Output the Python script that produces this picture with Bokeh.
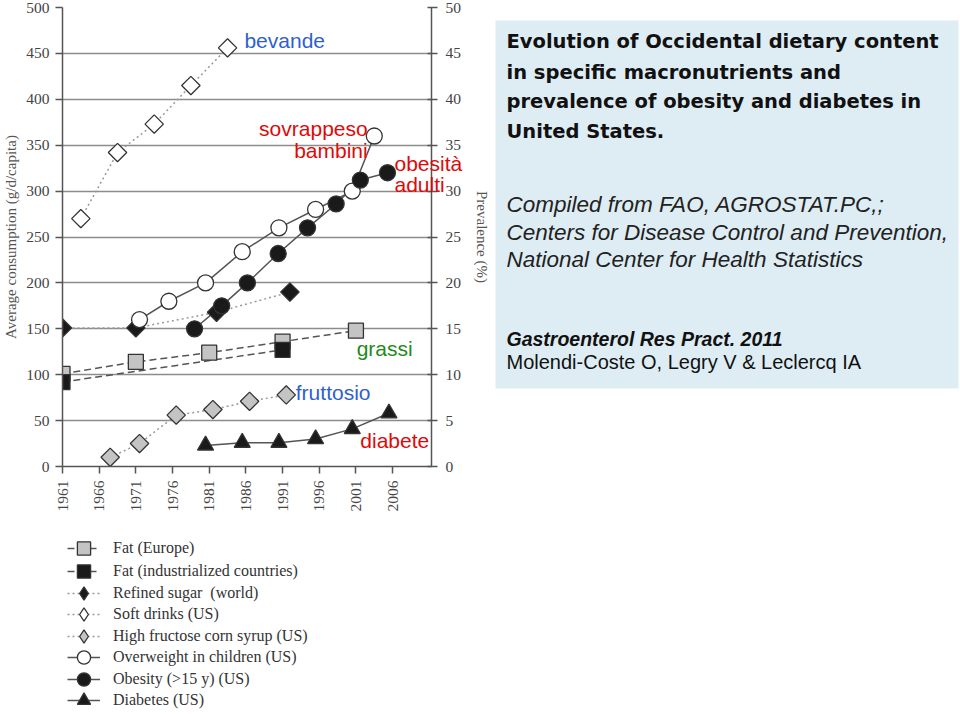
import math
from bokeh.plotting import figure
from bokeh.models import Range1d, LinearAxis, FixedTicker, Legend, LegendItem, Label
from bokeh.layouts import row, column
from bokeh.embed import file_html
from bokeh.resources import INLINE

# ---------------- data ----------------
x_ticks = [1961, 1966, 1971, 1976, 1981, 1986, 1991, 1996, 2001, 2006]
y_ticks = [0, 50, 100, 150, 200, 250, 300, 350, 400, 450, 500]
prev_ticks = [0, 5, 10, 15, 20, 25, 30, 35, 40, 45, 50]

fat_eu_years = [1961, 1971, 1981, 1991, 2001]
fat_eu = [101, 114, 124, 136, 148]

fat_ind_years = [1961, 1991]
fat_ind = [92, 127]

sugar_years = [1961, 1971, 1982, 1992]
sugar = [151, 151, 168, 190]

soft_years = [1963.5, 1968.5, 1973.5, 1978.5, 1983.5]
soft = [270, 342, 373, 415, 456]

hfcs_years = [1967.5, 1971.5, 1976.5, 1981.5, 1986.5, 1991.5]
hfcs = [10, 25, 56, 62, 71, 78]

overw_years = [1971.5, 1975.5, 1980.5, 1985.5, 1990.5, 1995.5, 2000.5, 2003.5]
overw = [16, 18, 20, 23.4, 26, 28, 30, 36]

obes_years = [1979, 1982.7, 1986.2, 1990.4, 1994.4, 1998.3, 2001.6, 2005.3]
obes = [15, 17.5, 20, 23.2, 26, 28.6, 31.2, 32]

diab_years = [1980.5, 1985.5, 1990.5, 1995.5, 2000.5, 2005.5]
diab = [2.3, 2.6, 2.6, 3.0, 4.1, 5.8]

legend_labels = ["Fat (Europe)", "Fat (industrialized countries)", "Refined sugar  (world)",
                 "Soft drinks (US)", "High fructose corn syrup (US)", "Overweight in children (US)",
                 "Obesity (>15 y) (US)", "Diabetes (US)"]

title_lines = ["Evolution of Occidental dietary content",
               "in specific macronutrients and",
               "prevalence of obesity and diabetes in",
               "United States."]
source_lines = ["Compiled from FAO, AGROSTAT.PC,;",
                "Centers for Disease Control and Prevention,",
                "National Center for Health Statistics"]
journal_line = "Gastroenterol Res Pract. 2011"
authors_line = "Molendi-Coste O, Legry V &  Leclercq IA"

# ---------------- styles ----------------
SERIF = "Liberation Serif"
SANS = "Liberation Sans"
DARK = "#555555"
EDGE = "#333333"
DOT = "#9a9a9a"
BLUE = "#2f5fd0"
RED = "#dd0a0a"
GREEN = "#1e8a1e"

STYLES = [
    dict(marker="square", fill="#c4c4c4", dash="7 4", lc=DARK, size=15, angle=0.0),
    dict(marker="square", fill="#1a1a1a", dash="7 4", lc=DARK, size=15, angle=0.0),
    dict(marker="square", fill="#1a1a1a", dash="2 3", lc=DOT, size=13, angle=math.pi / 4),
    dict(marker="square", fill="white", dash="2 3", lc=DOT, size=13, angle=math.pi / 4),
    dict(marker="square", fill="#c4c4c4", dash="2 3", lc=DOT, size=13, angle=math.pi / 4),
    dict(marker="circle", fill="white", dash="solid", lc=DARK, size=16, angle=0.0),
    dict(marker="circle", fill="#1a1a1a", dash="solid", lc=DARK, size=16, angle=0.0),
    dict(marker="triangle", fill="#1a1a1a", dash="solid", lc=DARK, size=16, angle=0.0),
]
# legend swatches ignore the angle, so rotated squares are shown as diamonds there
LEGEND_MARKERS = ["square", "square", "diamond", "diamond", "diamond", "circle", "circle", "triangle"]

# ---------------- main chart ----------------
p = figure(width=495, height=516,
           x_range=Range1d(1961, 2011.3), y_range=Range1d(0, 500),
           output_backend="svg", toolbar_location=None,
           min_border_left=61, min_border_right=64, min_border_top=7, min_border_bottom=50)
p.extra_y_ranges = {"prev": Range1d(0, 50)}
p.outline_line_color = None
p.xgrid.visible = False
p.ygrid.ticker = FixedTicker(ticks=y_ticks)
p.ygrid.grid_line_color = "#8c8c8c"
p.ygrid.grid_line_width = 1.6

def style_axis(ax):
    ax.axis_line_color = DARK
    ax.axis_line_width = 1.5
    ax.major_tick_line_color = DARK
    ax.major_tick_line_width = 1.5
    ax.major_tick_out = 7
    ax.major_tick_in = 0
    ax.minor_tick_line_color = None
    ax.major_label_text_font = SERIF
    ax.major_label_text_font_size = "15.5px"
    ax.major_label_text_color = "#444444"
    ax.axis_label_text_font = SERIF
    ax.axis_label_text_font_size = "15px"
    ax.axis_label_text_font_style = "normal"
    ax.axis_label_text_color = "#555555"

style_axis(p.xaxis[0])
p.xaxis[0].ticker = FixedTicker(ticks=x_ticks)
p.xaxis[0].major_label_orientation = math.pi / 2
p.xaxis[0].major_label_standoff = 7

style_axis(p.yaxis[0])
p.yaxis[0].ticker = FixedTicker(ticks=y_ticks)
p.yaxis[0].axis_label = "Average consumption (g/d/capita)"
p.yaxis[0].major_label_standoff = 6
p.yaxis[0].axis_label_standoff = 4

ax_r = LinearAxis(y_range_name="prev", ticker=FixedTicker(ticks=prev_ticks),
                  axis_label="Prevalence (%)")
style_axis(ax_r)
ax_r.major_tick_out = 6
ax_r.major_tick_in = 4
ax_r.major_label_standoff = 8
ax_r.axis_label_standoff = 10
p.add_layout(ax_r, "right")

series_data = [
    (fat_eu_years, fat_eu, "default"),
    (fat_ind_years, fat_ind, "default"),
    (sugar_years, sugar, "default"),
    (soft_years, soft, "default"),
    (hfcs_years, hfcs, "default"),
    (overw_years, overw, "prev"),
    (obes_years, obes, "prev"),
    (diab_years, diab, "prev"),
]

for (xs, ys, rng), st in zip(series_data, STYLES):
    p.line(xs, ys, line_color=st["lc"], line_width=1.5, line_dash=st["dash"], y_range_name=rng)
for (xs, ys, rng), st in zip(series_data, STYLES):
    p.scatter(xs, ys, marker=st["marker"], size=st["size"], angle=st["angle"],
              fill_color=st["fill"], line_color=EDGE, line_width=1.3, y_range_name=rng)

def note(x, y, txt, color, align="left"):
    p.add_layout(Label(x=x, y=y, text=txt, text_color=color, text_font=SANS,
                       text_font_size="21px", text_align=align, text_baseline="middle"))

note(1985.8, 464, "bevande", BLUE)
note(2002.6, 368, "sovrappeso", RED, "right")
note(2002.6, 344, "bambini", RED, "right")
note(2001.1, 128.5, "grassi", GREEN)
note(1992.8, 80.5, "fruttosio", BLUE)
note(2001.6, 28, "diabete", RED)

# ---------------- legend (own small figure, one box per entry) ----------------
PL_H = 198
PL_TOP = 516
pl = figure(width=495, height=PL_H, x_range=Range1d(0, 1), y_range=Range1d(0, 1),
            output_backend="svg", toolbar_location=None,
            x_axis_location=None, y_axis_location=None, min_border=0)
pl.outline_line_color = None
pl.grid.visible = False
row_centers = [548, 570.5, 592.5, 614, 636, 657, 678.5, 700]
BOX = 34
for lab, st, lm, cy in zip(legend_labels, STYLES, LEGEND_MARKERS, row_centers):
    # off-range points: only their legend swatches are visible
    ln = pl.line([0, 1], [-5, -5], line_color=st["lc"], line_width=1.5, line_dash=st["dash"])
    mk = pl.scatter([0.5], [-5], marker=lm, size=st["size"],
                    fill_color=st["fill"], line_color=EDGE, line_width=1.3)
    y_bottom = (PL_TOP + PL_H) - (cy + BOX / 2)
    lg = Legend(items=[LegendItem(label=lab, renderers=[ln, mk])], location=(5, y_bottom),
                orientation="vertical",
                label_text_font=SERIF, label_text_font_size="16px", label_text_color="#333333",
                glyph_width=33, glyph_height=BOX, label_height=BOX, spacing=0,
                label_standoff=13, padding=0, margin=0,
                border_line_color=None, background_fill_alpha=0)
    pl.add_layout(lg)

# ---------------- text panel (overlaps the chart's right margin) ----------------
p2 = figure(width=566, height=714, x_range=Range1d(0, 566), y_range=Range1d(714, 0),
            output_backend="svg", toolbar_location=None,
            x_axis_location=None, y_axis_location=None,
            min_border=0, margin=(0, 0, 0, -101))
p2.outline_line_color = None
p2.background_fill_color = None
p2.border_fill_color = None
p2.grid.visible = False
p2.quad(left=[101], right=[564], top=[20], bottom=[388], fill_color="#deedf4", line_color=None)

p2.add_layout(Label(x=0, y=163, text="obesità", text_color=RED, text_font=SANS,
                    text_font_size="21px", text_baseline="middle"))
p2.add_layout(Label(x=0, y=184, text="adulti", text_color=RED, text_font=SANS,
                    text_font_size="21px", text_baseline="middle"))

title_y = [41, 71.5, 100.5, 131]
for t, y in zip(title_lines, title_y):
    p2.add_layout(Label(x=112, y=y, text=t, text_font="DejaVu Sans",
                        text_font_size="19.5px", text_font_style="bold", text_color="#111111",
                        text_baseline="middle"))
source_y = [204, 231.5, 259]
for t, y in zip(source_lines, source_y):
    p2.add_layout(Label(x=112, y=y, text=t, text_font=SANS,
                        text_font_size="22.5px", text_font_style="italic", text_color="#222222",
                        text_baseline="middle"))
p2.add_layout(Label(x=112, y=338, text=journal_line, text_font=SANS,
                    text_font_size="19.5px", text_font_style="bold italic", text_color="#111111",
                    text_baseline="middle"))
p2.add_layout(Label(x=112, y=361, text=authors_line, text_font=SANS,
                    text_font_size="20px", text_color="#111111", text_baseline="middle"))

layout = row(column(p, pl, spacing=0), p2, spacing=0)
open("out.html", "w").write(file_html(layout, INLINE))
